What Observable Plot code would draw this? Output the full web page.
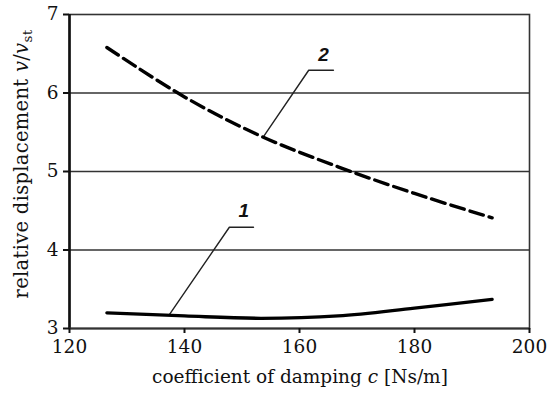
<!DOCTYPE html>
<html>
<head>
<meta charset="utf-8">
<script src="https://cdn.jsdelivr.net/npm/d3@7"></script>
<script src="https://cdn.jsdelivr.net/npm/@observablehq/plot@0.6"></script>
<style>
  html, body { margin: 0; padding: 0; background: #fff; }
  #chart svg { display: block; }
  #chart svg text { font-family: "DejaVu Serif", "Liberation Serif", serif; }
</style>
</head>
<body>
<div id="chart"></div>
<script>
// Data
const xTicks = [120, 140, 160, 180, 200];
const yTicks = [3, 4, 5, 6, 7];
const damping = [126.5, 140, 153.3, 166.7, 180, 193.5];
const curve1 = [3.20, 3.16, 3.13, 3.16, 3.26, 3.37];
const curve2 = [6.58, 5.95, 5.45, 5.06, 4.72, 4.41];
// Annotation leaders (data units): curve name, label position, leader points
const labelNames = ["1", "2"];
const labelX = [150.3, 164.2];
const labelY = [4.50, 6.48];
const leader1X = [137.4, 147.8, 152.0];
const leader1Y = [3.18, 4.29, 4.29];
const leader2X = [153.8, 161.6, 165.9];
const leader2Y = [5.45, 6.29, 6.29];
const xLabel = "coefficient of damping ";
const yLabel = "relative displacement ";

const s1 = damping.map((c, i) => ({c, v: curve1[i]}));
const s2 = damping.map((c, i) => ({c, v: curve2[i]}));
const l1 = leader1X.map((x, i) => ({x, y: leader1Y[i]}));
const l2 = leader2X.map((x, i) => ({x, y: leader2Y[i]}));
const labels = labelNames.map((t, i) => ({t, x: labelX[i], y: labelY[i]}));

const W = 549, H = 395;
const plot = Plot.plot({
  width: W, height: H,
  marginLeft: 69, marginRight: 20, marginTop: 14, marginBottom: 67,
  x: {domain: [120, 200]},
  y: {domain: [3, 7]},
  style: {fontFamily: "'DejaVu Serif', serif", fontSize: "18.5px", color: "#111", background: "#fff"},
  marks: [
    Plot.ruleY([4, 5, 6], {stroke: "#333", strokeWidth: 1.6}),
    Plot.frame({stroke: "#333", strokeWidth: 1.6}),
    Plot.ruleX([120], {stroke: "#111", strokeWidth: 2.6}),
    Plot.ruleY([3], {stroke: "#333", strokeWidth: 2.2}),
    Plot.axisX({ticks: xTicks, tickSize: 5, tickPadding: 6, strokeWidth: 2, label: null, tickFormat: d => String(d)}),
    Plot.axisY({ticks: yTicks, tickSize: 6, tickPadding: 5, strokeWidth: 2, label: null, tickFormat: d => String(d)}),
    Plot.line(l1, {x: "x", y: "y", stroke: "#222", strokeWidth: 1.4}),
    Plot.line(l2, {x: "x", y: "y", stroke: "#222", strokeWidth: 1.4}),
    Plot.line(s1, {x: "c", y: "v", stroke: "#000", strokeWidth: 3.3, curve: "catmull-rom"}),
    Plot.line(s2, {x: "c", y: "v", stroke: "#000", strokeWidth: 3.4, strokeDasharray: "14,6", curve: "catmull-rom"}),
    Plot.text(labels, {x: "x", y: "y", text: "t", className: "num", fontWeight: "bold", fontStyle: "italic", fontSize: 19, fill: "#111"})
  ]
});
document.getElementById("chart").appendChild(plot);
d3.select(plot).selectAll(".num text").style("font-family", "'Liberation Sans', Arial, sans-serif");

// Axis titles with italic symbols and subscript
const svg = d3.select(plot);
const xt = svg.append("text")
  .attr("x", 300).attr("y", 383)
  .attr("text-anchor", "middle")
  .attr("font-size", 18.5).attr("fill", "#111");
xt.append("tspan").text(xLabel);
xt.append("tspan").attr("font-style", "italic").text("c");
xt.append("tspan").text(" [Ns/m]");

const yt = svg.append("text")
  .attr("transform", "translate(28,164) rotate(-90)")
  .attr("text-anchor", "middle")
  .attr("font-size", 19.5).attr("letter-spacing", 0.3).attr("fill", "#111");
yt.append("tspan").text(yLabel);
yt.append("tspan").attr("font-style", "italic").text("v");
yt.append("tspan").text("/");
yt.append("tspan").attr("font-style", "italic").text("v");
yt.append("tspan").attr("font-size", 13.5).attr("dy", 4).text("st");
</script>
</body>
</html>
